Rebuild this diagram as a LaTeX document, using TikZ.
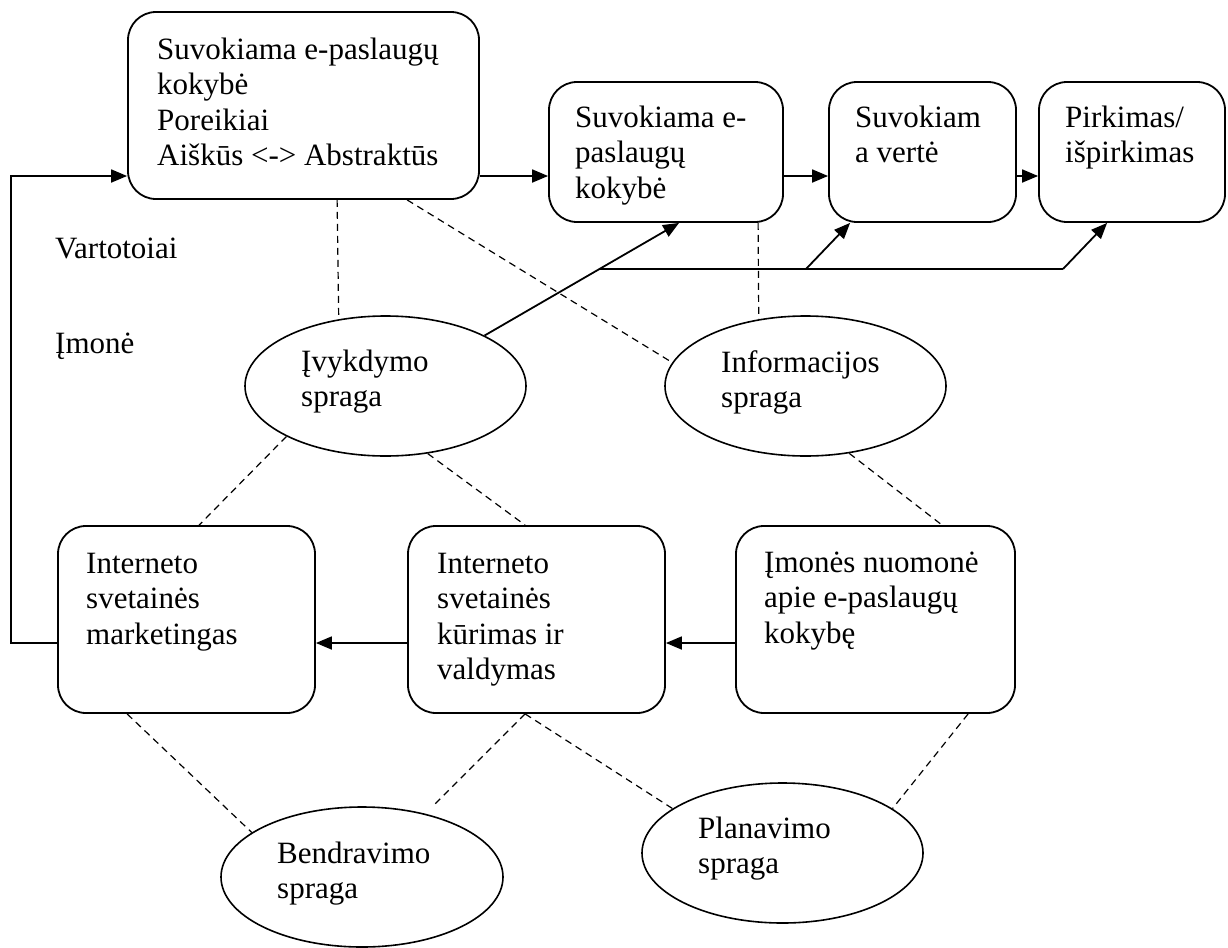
\documentclass[tikz,border=0pt]{standalone}
\usepackage{fontspec}
\setmainfont{Liberation Serif}
\usetikzlibrary{shapes.geometric,arrows.meta}
% left-aligned block of lines whose baseline is the first line's baseline
\newcommand\lineblock[1]{\vtop{\halign{##\hfil\cr#1\crcr}}}

\begin{document}
\begin{tikzpicture}[x=1pt,y=-1pt,
  every node/.style={font=\fontsize{31}{35.6}\selectfont},
  box/.style={draw, line width=1.8pt, rounded corners=28pt, inner sep=0pt},
  gapshape/.style={draw, ellipse, line width=1.6pt, minimum width=281pt,
                   minimum height=140pt, inner sep=0pt},
  txt/.style={anchor=base west, inner sep=0pt},
  arr/.style={line width=1.8pt, -{Triangle[length=16pt,width=13pt]}},
  dashlink/.style={line width=1.2pt, dash pattern=on 7pt off 5pt}]

% page
\fill[white] (0,0) rectangle (1228,943);

% top row: customer side
\node[box, minimum width=351pt, minimum height=187pt] (a) at (303.5,105.5) {};
\node[box, minimum width=234pt, minimum height=140pt] (b) at (666,152) {};
\node[box, minimum width=187pt, minimum height=140pt] (c) at (922.5,152) {};
\node[box, minimum width=186pt, minimum height=140pt] (d) at (1132,152) {};

% bottom row: company side
\node[box, minimum width=257pt, minimum height=187pt] (e) at (186.5,619.5) {};
\node[box, minimum width=257pt, minimum height=187pt] (g) at (536.5,619.5) {};
\node[box, minimum width=279pt, minimum height=187pt] (f) at (875.5,619.5) {};

% gaps
\node[gapshape] (e1) at (385.5,386) {};
\node[gapshape] (e2) at (805.5,386) {};
\node[gapshape, minimum width=282pt] (e3) at (362,877) {};
\node[gapshape] (e4) at (782.5,853) {};

% texts
\node[txt] (ta) at (157,59) {\lineblock{Suvokiama e-paslaugų\cr kokybė\cr Poreikiai\cr Aiškūs <-> Abstraktūs}};
\node[txt] (tb) at (575,127) {\lineblock{Suvokiama e-\cr paslaugų\cr kokybė}};
\node[txt] (tc) at (855,127) {\lineblock{Suvokiam\cr a vertė}};
\node[txt] (td) at (1065,127) {\lineblock{Pirkimas/\cr išpirkimas}};
\node[txt] (te) at (86,573) {\lineblock{Interneto\cr svetainės\cr marketingas}};
\node[txt] (tg) at (437,573) {\lineblock{Interneto\cr svetainės\cr kūrimas ir\cr valdymas}};
\node[txt] (tf) at (764,572) {\lineblock{Įmonės nuomonė\cr apie e-paslaugų\cr kokybę}};
\node[txt] (te1) at (301,371) {\lineblock{Įvykdymo\cr spraga}};
\node[txt] (te2) at (721,372) {\lineblock{Informacijos\cr spraga}};
\node[txt] (te3) at (277,863) {\lineblock{Bendravimo\cr spraga}};
\node[txt] (te4) at (698,838) {\lineblock{Planavimo\cr spraga}};
\node[txt] (cust) at (55,258) {Vartotoiai};
\node[txt] (comp) at (55,353) {Įmonė};

% flow rows
\coordinate (rowtop) at (0,176);
\coordinate (rowbot) at (0,643);

\draw[arr] (a.east |- rowtop) -- (b.west |- rowtop);
\draw[arr] (b.east |- rowtop) -- (c.west |- rowtop);
\draw[arr] (c.east |- rowtop) -- (d.west |- rowtop);
\draw[arr] (f.west |- rowbot) -- (g.east |- rowbot);
\draw[arr] (g.west |- rowbot) -- (e.east |- rowbot);

% feedback loop from marketing back to perceived quality
\draw[arr] (e.west |- rowbot) -- ++(-46,0) |- (a.west |- rowtop);

% fulfilment gap acting on the customer side
\coordinate (j1) at (599,269);
\coordinate (j2) at (1063,269);
\coordinate (j3) at (806,269);
\draw[arr] (e1.27) -- ([xshift=131pt]b.south west);
\draw[line width=1.8pt] (j1) -- (j2);
\draw[arr] (j2) -- ([xshift=69pt]d.south west);
\draw[arr] (j3) -- ([xshift=22pt]c.south west);

% dashed gap links
\draw[dashlink] ([xshift=210pt]a.south west) -- (e1.125.7);
\draw[dashlink] ([xshift=280pt]a.south west) -- (e2.170);
\draw[dashlink] ([xshift=210pt]b.south west) -- (e2.125.2);
\draw[dashlink] (e1.207) -- ([xshift=142pt]e.north west);
\draw[dashlink] (e1.302.6) -- ([xshift=118pt]g.north west);
\draw[dashlink] (e2.303.8) -- ([xshift=207pt]f.north west);
\draw[dashlink] ([xshift=70pt]e.south west) -- (e3.158);
\draw[dashlink, shorten >=14pt] ([xshift=118pt]g.south west) -- (e3.45);
\draw[dashlink] ([xshift=118pt]g.south west) -- (e4.158.3);
\draw[dashlink] ([xshift=233pt]f.south west) -- (e4.22.2);
\end{tikzpicture}
\end{document}
